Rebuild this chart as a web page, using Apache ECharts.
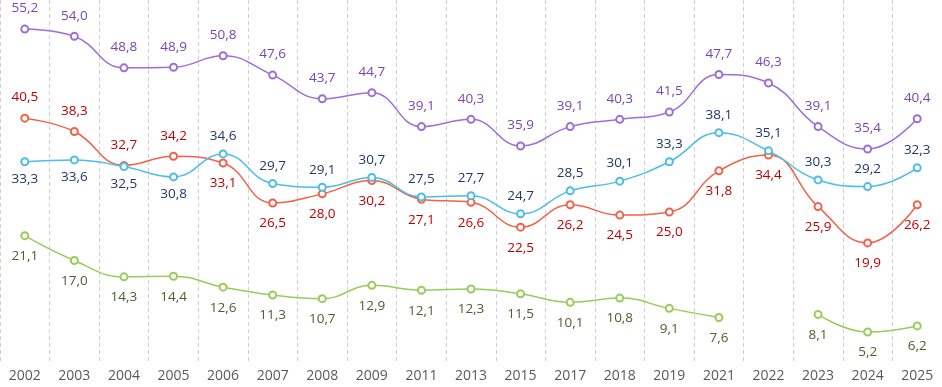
<!DOCTYPE html>
<html><head><meta charset="utf-8">
<script src="https://cdn.jsdelivr.net/npm/echarts@6/dist/echarts.min.js"></script>
<style>html,body{margin:0;padding:0;background:#fff}#c{width:942px;height:387px}</style>
</head><body><div id="c"></div>
<script>
const years = ['2002','2003','2004','2005','2006','2007','2008','2009','2011','2013','2015','2017','2018','2019','2021','2022','2023','2024','2025'];
const purple = [55.2,54.0,48.8,48.9,50.8,47.6,43.7,44.7,39.1,40.3,35.9,39.1,40.3,41.5,47.7,46.3,39.1,35.4,40.4];
const red = [40.5,38.3,32.7,34.2,33.1,26.5,28.0,30.2,27.1,26.6,22.5,26.2,24.5,25.0,31.8,34.4,25.9,19.9,26.2];
const blue = [33.3,33.6,32.5,30.8,34.6,29.7,29.1,30.7,27.5,27.7,24.7,28.5,30.1,33.3,38.1,35.1,30.3,29.2,32.3];
const green = [21.1,17.0,14.3,14.4,12.6,11.3,10.7,12.9,12.1,12.3,11.5,10.1,10.8,9.1,7.6,null,8.1,5.2,6.2];
// label positions
const redAbove = [true,true,true,true,false,false,false,false,false,false,false,false,false,false,false,false,false,false,false];
const blueBelow = [true,true,true,true,false,false,false,false,false,false,false,false,false,false,false,false,false,false,false];

const font = '"Open Sans", "Liberation Sans", sans-serif';
const fmt = p => p.value == null ? '' : p.value.toFixed(1).replace('.', ',');

function mk(name, vals, lineColor, labelColor, posFn, dist) {
  return {
    name, type: 'line', smooth: 0.45, connectNulls: false,
    symbol: 'emptyCircle', symbolSize: 7,
    lineStyle: { color: lineColor, width: 1.5 },
    itemStyle: { color: lineColor, borderColor: lineColor, borderWidth: 1.2 },
    data: vals.map((v, i) => ({
      value: v,
      label: { position: posFn(i) }
    })),
    label: { show: true, formatter: fmt, color: labelColor, fontSize: 13.5, fontFamily: font, distance: dist },
    emphasis: { disabled: true },
    animation: false
  };
}

const chart = echarts.init(document.getElementById('c'));
chart.setOption({
  animation: false,
  grid: { left: -7, right: -12, top: 0, bottom: 23.5, containLabel: false },
  xAxis: {
    type: 'category', data: years, boundaryGap: true,
    axisLine: { show: false }, axisTick: { show: false },
    axisLabel: { color: '#595959', fontSize: 14, fontFamily: font, margin: 6 },
    splitLine: { show: true, lineStyle: { color: '#d0d0d0', type: [4, 3], width: 1 } }
  },
  yAxis: { type: 'value', min: 0, max: 60, show: false, splitLine: { show: false } },
  series: [
    mk('purple', purple, '#9d6fd6', '#7a45b0', () => 'top', 9),
    mk('red', red, '#f0634a', '#c00000', i => redAbove[i] ? 'top' : 'bottom', 9),
    mk('blue', blue, '#4dbde6', '#1f3864', i => blueBelow[i] ? 'bottom' : 'top', 6),
    mk('green', green, '#97cc5a', '#4f5e2e', () => 'bottom', 9)
  ]
});
</script></body></html>
